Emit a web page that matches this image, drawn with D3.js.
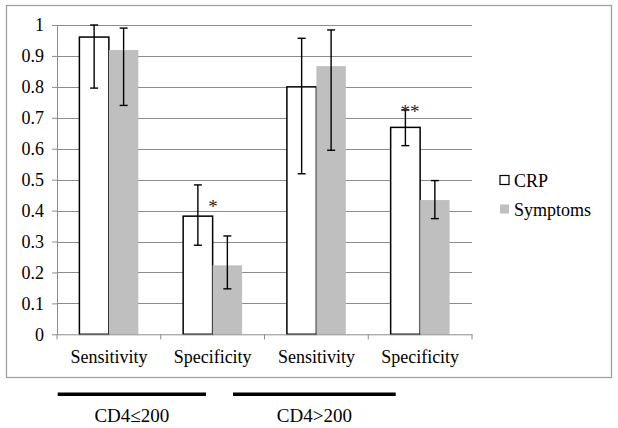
<!DOCTYPE html>
<html><head><meta charset="utf-8">
<script src="https://cdn.jsdelivr.net/npm/d3@7"></script>
<style>body{margin:0;background:#fff}svg{display:block}</style>
</head><body>
<script>
const categories = ["Sensitivity","Specificity","Sensitivity","Specificity"];
const series = ["CRP","Symptoms"];
const crpValues = [0.961, 0.382, 0.800, 0.669];
const crpLow = [0.796, 0.288, 0.519, 0.610];
const crpHigh = [1.0, 0.483, 0.957, 0.725];
const symValues = [0.919, 0.223, 0.867, 0.434];
const symLow = [0.740, 0.147, 0.595, 0.374];
const symHigh = [0.990, 0.318, 0.984, 0.497];
const stars = ["", "*", "", "**"];
const groups = ["CD4≤200", "CD4>200"];
const yTicks = [0,0.1,0.2,0.3,0.4,0.5,0.6,0.7,0.8,0.9,1];

const W=618,H=428;
const svg=d3.select("body").append("svg").attr("width",W).attr("height",H);
const font="'Liberation Serif', serif";
svg.append("rect").attr("x",6.5).attr("y",5.5).attr("width",605).attr("height",372)
  .attr("fill","#fff").attr("stroke","#a0a0a0").attr("stroke-width",1.3);

const x0=d3.scaleBand().domain(d3.range(4)).range([57,472]).paddingInner(0).paddingOuter(0);
const y=d3.scaleLinear().domain([0,1]).range([334.3,25]);
const x1=d3.scaleBand().domain(series).range([22.4,x0.bandwidth()-22.4]);

// gridlines
svg.append("g").selectAll("line").data(yTicks.slice(1)).join("line")
  .attr("x1",57).attr("x2",472).attr("y1",d=>Math.round(y(d))+0.5).attr("y2",d=>Math.round(y(d))+0.5)
  .attr("stroke","#8c8c8c").attr("stroke-width",1);

const data = categories.map((c,i)=>({i, vals:[
  {s:"CRP",v:crpValues[i],lo:crpLow[i],hi:crpHigh[i]},
  {s:"Symptoms",v:symValues[i],lo:symLow[i],hi:symHigh[i]}]}));

const g=svg.append("g").selectAll("g").data(data).join("g").attr("transform",d=>`translate(${x0(d.i)},0)`);
g.selectAll("rect").data(d=>d.vals).join("rect")
  .attr("x",d=>x1(d.s)).attr("width",x1.bandwidth())
  .attr("y",d=>y(d.v)).attr("height",d=>y(0)-y(d.v))
  .attr("fill",d=>d.s==="CRP"?"#fff":"#bfbfbf")
  .attr("stroke",d=>d.s==="CRP"?"#000":"none").attr("stroke-width",1.5);
// error bars
const eb=g.selectAll("g.eb").data(d=>d.vals).join("g").attr("class","eb")
  .attr("transform",d=>`translate(${x1(d.s)+x1.bandwidth()/2},0)`);
eb.append("line").attr("y1",d=>y(d.lo)).attr("y2",d=>y(d.hi)).attr("stroke","#000").attr("stroke-width",1.4);
eb.append("line").attr("x1",-4).attr("x2",4).attr("y1",d=>y(d.lo)).attr("y2",d=>y(d.lo)).attr("stroke","#000").attr("stroke-width",1.4);
eb.append("line").attr("x1",-4).attr("x2",4).attr("y1",d=>y(d.hi)).attr("y2",d=>y(d.hi)).attr("stroke","#000").attr("stroke-width",1.4);
// stars
g.append("text").text(d=>stars[d.i])
  .attr("x",d=>x1("CRP")+x1.bandwidth()/2+ (stars[d.i].length>1?4.5:15))
  .attr("y",d=>y(crpHigh[d.i])+ (stars[d.i].length>1?8:28))
  .attr("text-anchor","middle").attr("font-family",font).attr("font-size",19).attr("fill","#222");

// axes
const yAxis=d3.axisLeft(y).tickValues(yTicks).tickFormat(d=>d===0||d===1?String(d):d.toFixed(1)).tickSize(5).tickPadding(8).tickSizeOuter(0);
const ya=svg.append("g").attr("transform","translate(57,0)").call(yAxis);
ya.select(".domain").attr("stroke","#8c8c8c");
ya.selectAll(".tick line").attr("stroke","#8c8c8c");
ya.selectAll("text").attr("font-family",font).attr("font-size",18).attr("fill","#000");

const xAxis=d3.axisBottom(x0).tickFormat(i=>categories[i]).tickSize(0).tickSizeOuter(0);
const xa=svg.append("g").attr("transform","translate(0,334.3)").call(xAxis);
xa.select(".domain").attr("stroke","#8c8c8c");
xa.selectAll("text").attr("font-family",font).attr("font-size",18).attr("fill","#000").attr("dy","1.42em");
// category boundary ticks
svg.append("g").selectAll("line").data(d3.range(5)).join("line")
  .attr("x1",i=>i<4?x0(i):472).attr("x2",i=>i<4?x0(i):472)
  .attr("y1",334.3).attr("y2",339.5).attr("stroke","#8c8c8c");

// legend
const leg=svg.append("g").selectAll("g").data(series).join("g")
  .attr("transform",(d,i)=>`translate(500,${175.5+i*29})`);
leg.append("rect").attr("width",9).attr("height",9)
  .attr("fill",d=>d==="CRP"?"#fff":"#bfbfbf").attr("stroke",d=>d==="CRP"?"#000":"none").attr("stroke-width",1.2);
leg.append("text").text(d=>d).attr("x",14).attr("y",11)
  .attr("font-family",font).attr("font-size",18).attr("fill","#000");

// group bars
const gx=[[57.7,206],[233,395.7]];
svg.append("g").selectAll("line").data(groups).join("line")
  .attr("x1",(d,i)=>gx[i][0]).attr("x2",(d,i)=>gx[i][1]).attr("y1",394.3).attr("y2",394.3)
  .attr("stroke","#000").attr("stroke-width",3.5);
svg.append("g").selectAll("text").data(groups).join("text").text(d=>d)
  .attr("x",(d,i)=>(gx[i][0]+gx[i][1])/2).attr("y",422)
  .attr("text-anchor","middle").attr("font-family",font).attr("font-size",19).attr("fill","#000");
</script>
</body></html>
